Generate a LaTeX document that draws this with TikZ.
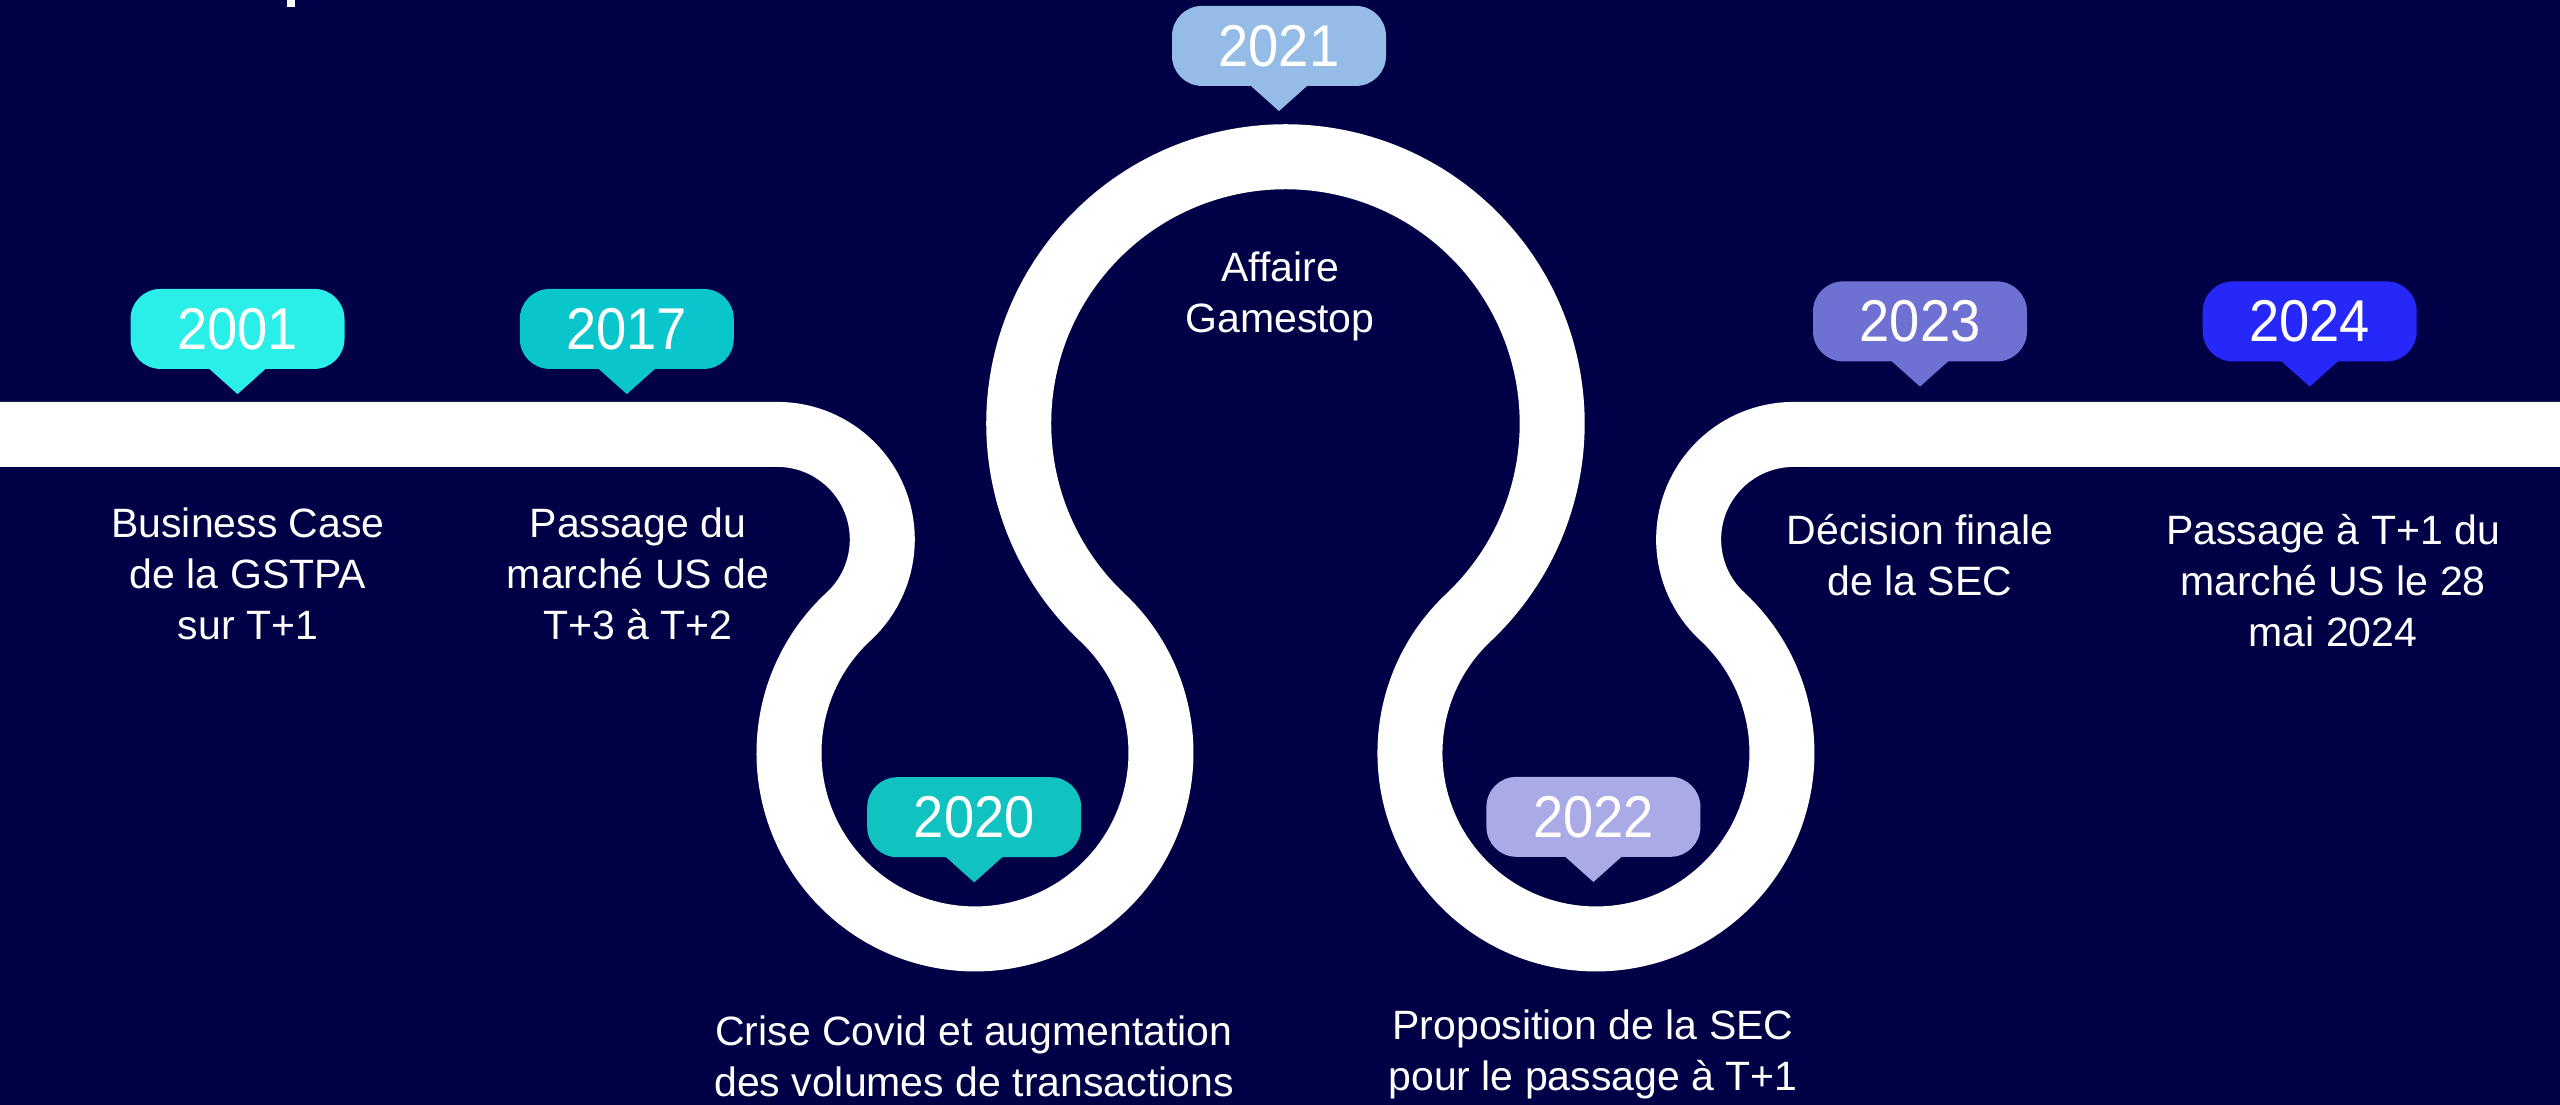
\documentclass[tikz,border=0pt]{standalone}
\usepackage{fontspec}
\setmainfont{Liberation Sans}
\newfontfamily\yearfont[FakeStretch=0.92]{Liberation Sans}
\definecolor{bg}{RGB}{0,0,70}
\definecolor{c2001}{RGB}{42,239,233}
\definecolor{c2017}{RGB}{8,198,204}
\definecolor{c2020}{RGB}{16,194,192}
\definecolor{c2021}{RGB}{148,188,230}
\definecolor{c2022}{RGB}{170,170,230}
\definecolor{c2023}{RGB}{110,112,210}
\definecolor{c2024}{RGB}{38,40,250}
\newcommand\yearbubble[4]{%
  \node[yearbox=#1] (#2) at (#3) {#4};
  \fill[#1] ([xshift=-29pt,yshift=1pt]#2.south) -- ([xshift=29pt,yshift=1pt]#2.south) -- ([yshift=-25pt]#2.south) -- cycle;
}
\begin{document}
\begin{tikzpicture}[x=1pt,y=-1pt,
  yearbox/.style={fill=#1, rounded corners=30pt, minimum width=214pt, minimum height=80pt, inner sep=0pt, text=white, font=\yearfont\fontsize{59}{59}\selectfont},
  desc/.style={text=white, align=center, anchor=base, inner sep=0pt, font=\fontsize{41}{51}\selectfont},
  road/.style={draw=white, line width=65pt, line cap=butt}]
\useasboundingbox (0,0) rectangle (2560,1104);
\fill[bg] (-10,-10) rectangle (2570,1114);
\begin{scope}
\clip (0,0) rectangle (2560,1104);
% cut-off mark at the top
\fill[white] (287.3,-1) rectangle (294.7,7.3);
% road
\draw[road] (-20,434.4) -- (777.3,434.4)
  arc[start angle=-90, end angle=47.21, radius=105]
  arc[start angle=227.21, end angle=-46.70, radius=186]
  arc[start angle=133.30, end angle=406.70, radius=266.74]
  arc[start angle=226.70, end angle=-47.21, radius=186]
  arc[start angle=132.79, end angle=270, radius=105]
  -- (2580,434.4);
\end{scope}
% year bubbles
\yearbubble{c2001}{y2001}{237.5,328.9}{2001}
\yearbubble{c2017}{y2017}{626.8,328.9}{2017}
\yearbubble{c2021}{y2021}{1279,45.9}{2021}
\yearbubble{c2020}{y2020}{974.2,817.2}{2020}
\yearbubble{c2022}{y2022}{1593.4,816.8}{2022}
\yearbubble{c2023}{y2023}{1920,321.4}{2023}
\yearbubble{c2024}{y2024}{2309.7,321.4}{2024}
% descriptions (anchor = baseline of the last line)
\node[desc] (d2001) at (248,639.5) {Business Case\\de la GSTPA\\sur T+1};
\node[desc] (d2017) at (638,639.5) {Passage du\\marché US de\\T+3 à T+2};
\node[desc] (d2021) at (1280,332) {Affaire\\Gamestop};
\node[desc] (d2020) at (974,1096.5) {Crise Covid et augmentation\\des volumes de transactions};
\node[desc] (d2022) at (1593,1090) {Proposition de la SEC\\pour le passage à T+1};
\node[desc] (d2023) at (1920,595.5) {Décision finale\\de la SEC};
\node[desc] (d2024) at (2333,646.5) {Passage à T+1 du\\marché US le 28\\mai 2024};
\end{tikzpicture}
\end{document}
